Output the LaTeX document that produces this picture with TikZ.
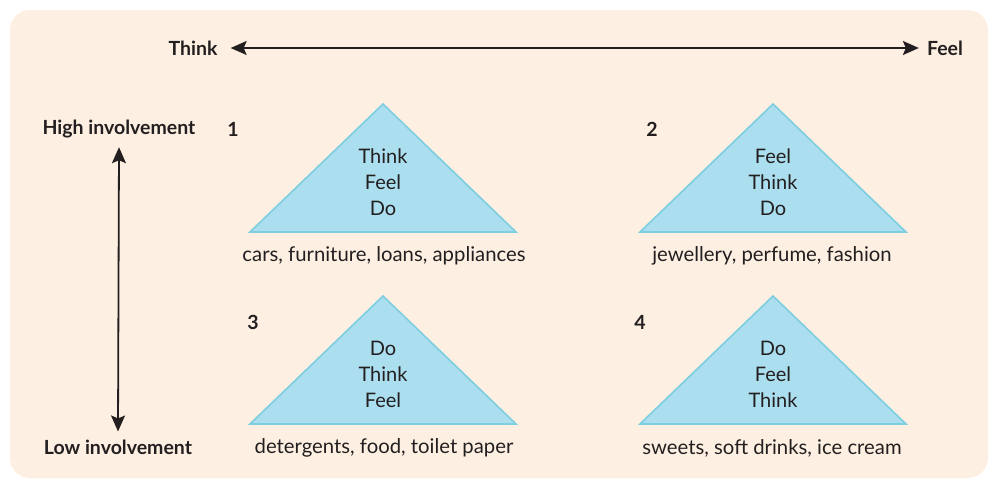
\documentclass[tikz,border=0pt]{standalone}
\usepackage{fontspec}
\setmainfont{Lato}
\usepackage{xcolor}
\usepackage{tikz}
\usetikzlibrary{arrows.meta}
\definecolor{paper}{HTML}{FDF0E2}
\definecolor{inkdark}{HTML}{231F20}
\definecolor{trifill}{HTML}{ABDEEE}
\definecolor{triline}{HTML}{7DCEE0}
\tikzstyle{arrow} = [line width=1.8pt,inkdark,<->,>={Stealth[length=16pt,width=14pt,inset=3pt]}]
\tikzstyle{tri} = [fill=trifill,draw=triline,line width=1.6pt,line join=miter]
\tikzstyle{axislabel} = [inkdark,font=\fontsize{19.5}{22}\selectfont\bfseries,inner sep=0pt]
\tikzstyle{order} = [inkdark,font=\fontsize{20}{26}\selectfont,align=center,inner sep=0pt]
\tikzstyle{caption} = [inkdark,font=\fontsize{20.3}{22}\selectfont,inner sep=0pt]

\begin{document}
\begin{tikzpicture}[x=1pt,y=-1pt]
				\useasboundingbox (0,0) rectangle (989,480);
				% Background panel:
				\fill[paper,rounded corners=20pt] (10,10) rectangle (988,478);
				
				\begin{scope}
				% Axes:
				% Labels first, then the arrows between them
				\node[axislabel] (think) at (193,48) {Think};
				\node[axislabel] (feel) at (945,48) {Feel};
				\node[axislabel] (high) at (119,129) {High involvement};
				\node[axislabel] (low) at (118,447) {Low involvement};
				\draw [arrow] ([xshift=13pt]think.east) -- ([xshift=-8pt]feel.west);
				\draw [arrow] ([yshift=-9pt]high.south) -- ([yshift=8pt]low.north);
				\end{scope}
				
				% Triangles:
				\foreach \x/\y in {383/104,773/104,383/296,773/296}{%
					\draw[tri] (\x,\y) -- ++(133,128) -- ++(-266,0) -- cycle;
				}
				
				% Quadrant numbers:
				\node[axislabel] (n1) at (233,129) {1};
				\node[axislabel] (n2) at (652,129) {2};
				\node[axislabel] (n3) at (253,322) {3};
				\node[axislabel] (n4) at (640,322) {4};
				
				% Orders inside the triangles:
				\node[order] (o1) at (383,182) {Think\\Feel\\Do};
				\node[order] (o2) at (773,182) {Feel\\Think\\Do};
				\node[order] (o3) at (383,374) {Do\\Think\\Feel};
				\node[order] (o4) at (773,374) {Do\\Feel\\Think};
				
				% Product examples:
				\node[caption] (c1) at (384,256) {cars, furniture, loans, appliances};
				\node[caption] (c2) at (772,256) {jewellery, perfume, fashion};
				\node[caption] (c3) at (384,448) {detergents, food, toilet paper};
				\node[caption] (c4) at (772,448) {sweets, soft drinks, ice cream};
\end{tikzpicture}
\end{document}
